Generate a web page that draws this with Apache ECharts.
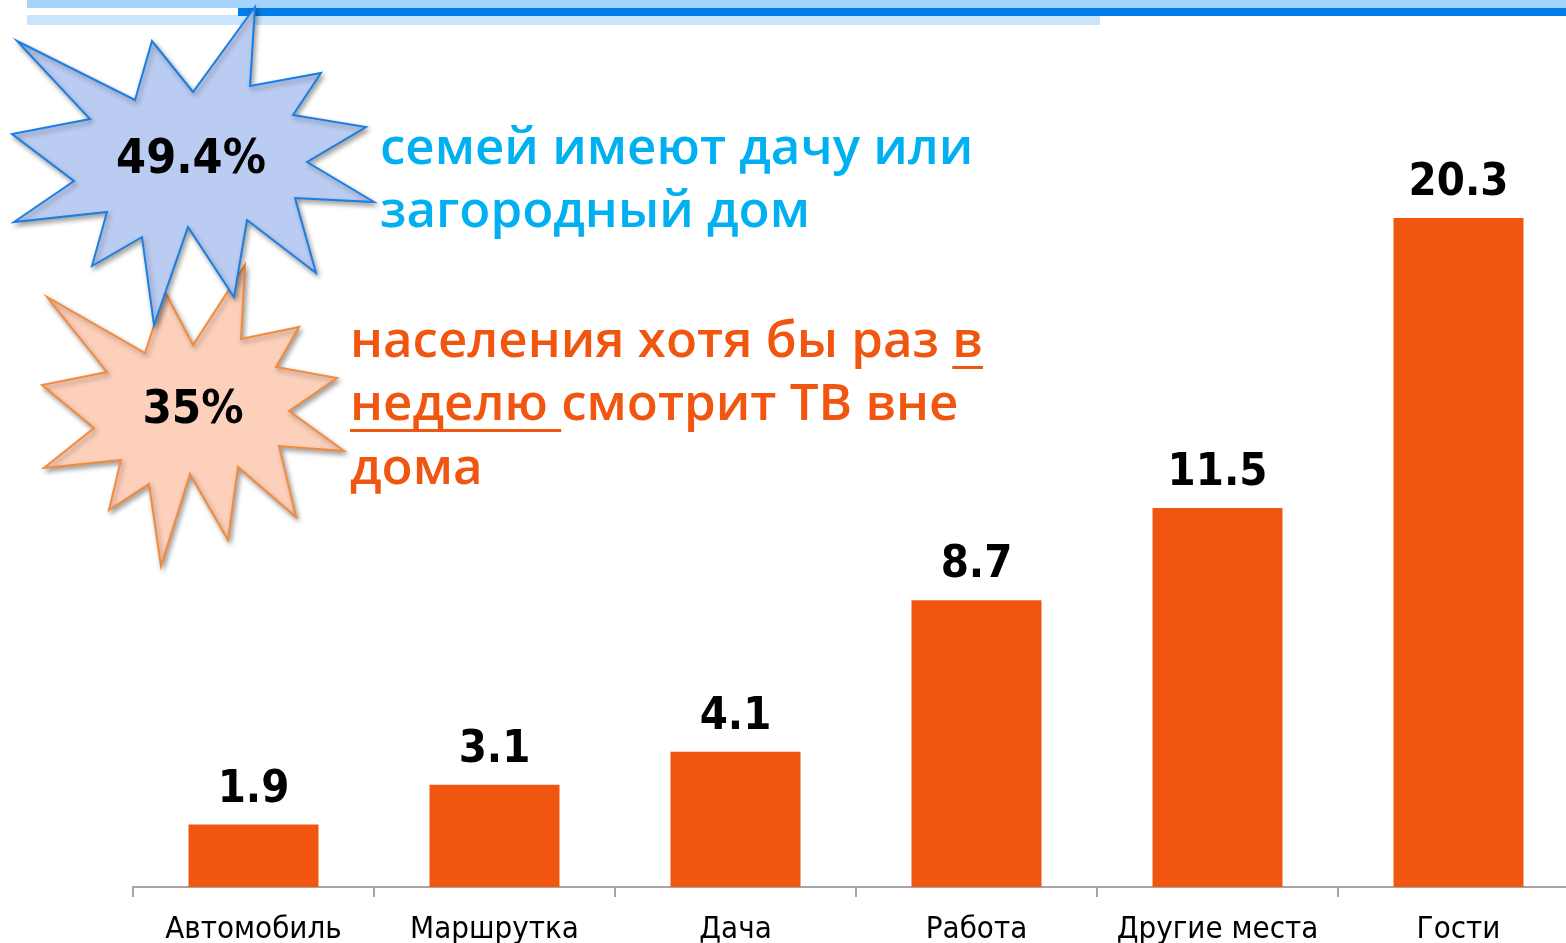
<!DOCTYPE html>
<html><head><meta charset="utf-8">
<script src="https://cdn.jsdelivr.net/npm/echarts@6/dist/echarts.min.js"></script>
<style>html,body{margin:0;padding:0;background:#fff}#c{width:1566px;height:943px}</style>
</head><body><div id="c"></div>
<script>
const categories = ['Автомобиль', 'Маршрутка', 'Дача', 'Работа', 'Другие места', 'Гости'];
const values = [1.9, 3.1, 4.1, 8.7, 11.5, 20.3];
const blueStarText = '49.4%';
const orangeStarText = '35%';
const blueLines = ['семей имеют дачу или', 'загородный дом'];
const orangeLines = ['населения хотя бы раз в', 'неделю смотрит ТВ вне', 'дома'];

const BAR = '#F0560F';
const BLUE_TXT = '#00B0F0';
const annFont = '"Open Sans", "DejaVu Sans", sans-serif';
const annSize = 51;
const annWeight = 600;
const condFont = '"DejaVu Sans Condensed", "DejaVu Sans", sans-serif';

const blueStar = [[255,7],[250,86],[321,73],[293,115],[366,127],[307,162],[374,202],[295,198],[316,273],[247,220],[234,297],[188,227],[154,325],[142,237],[92,266],[107,212],[14,222],[74,181],[12,134],[90,119],[17,41],[135,100],[152,41],[193,92]];
const orangeStar = [[245,265],[241,339],[299,327],[276,367],[337,378],[289,411],[344,451],[279,446],[296,517],[238,467],[228,540],[190,474],[161,566],[149,484],[109,510],[121,460],[44,468],[94,428],[42,385],[107,372],[47,297],[145,353],[165,292],[193,345]];

const mctx = document.createElement('canvas').getContext('2d');
mctx.font = annWeight + ' ' + annSize + 'px ' + annFont;
const w = s => mctx.measureText(s).width;

const ox = 350, bx = 380;
const blueY = [149, 212];
const orangeY = [342, 405, 469];
const ul1x = ox + w(orangeLines[0].slice(0, -1));
const ul1w = w('в');
const ul2w = w('неделю ');

const graphics = [
  {type:'rect', shape:{x:27,y:0,width:1539,height:8}, style:{fill:'#A6D5FC'}, z:1},
  {type:'rect', shape:{x:27,y:15,width:1073,height:10}, style:{fill:'#C8E5FE'}, z:1},
  {type:'rect', shape:{x:238,y:8,width:1328,height:8}, style:{fill:'#007DE8'}, z:2},
  {type:'polygon', shape:{points:orangeStar}, style:{fill:'#FDD0BC', stroke:'#F58A3A', lineWidth:2, shadowBlur:5, shadowOffsetX:2, shadowOffsetY:3, shadowColor:'rgba(0,0,0,0.35)'}, z:10},
  {type:'polygon', shape:{points:blueStar}, style:{fill:'#BBCCF2', stroke:'#1A7FE4', lineWidth:2, shadowBlur:5, shadowOffsetX:2, shadowOffsetY:3, shadowColor:'rgba(0,0,0,0.35)'}, z:11},
  {type:'text', x:191, y:161, style:{text:blueStarText, fill:'#000', font:'bold 48px ' + condFont, textAlign:'center', textVerticalAlign:'middle'}, z:12},
  {type:'text', x:193, y:411, style:{text:orangeStarText, fill:'#000', font:'bold 47px ' + condFont, textAlign:'center', textVerticalAlign:'middle'}, z:12}
];
blueLines.forEach((t, i) => graphics.push({type:'text', x:bx, y:blueY[i], style:{text:t, fill:BLUE_TXT, font:annWeight+' '+annSize+'px '+annFont, textAlign:'left', textVerticalAlign:'middle'}, z:12}));
orangeLines.forEach((t, i) => graphics.push({type:'text', x:ox, y:orangeY[i], style:{text:t, fill:BAR, font:annWeight+' '+annSize+'px '+annFont, textAlign:'left', textVerticalAlign:'middle'}, z:12}));
graphics.push({type:'rect', shape:{x:ul1x, y:366, width:ul1w, height:3}, style:{fill:BAR}, z:12});
graphics.push({type:'rect', shape:{x:ox, y:429, width:ul2w, height:3}, style:{fill:BAR}, z:12});

const chart = echarts.init(document.getElementById('c'), null, {renderer:'canvas'});
chart.setOption({
  animation:false,
  backgroundColor:'#fff',
  grid:{left:133, width:1446, top:63, bottom:56, containLabel:false, outerBoundsMode:'none'},
  xAxis:{type:'category', data:categories,
    axisLine:{lineStyle:{color:'#A6A6A6', width:2}},
    axisTick:{show:true, interval:0, length:10, lineStyle:{color:'#A6A6A6', width:2}},
    axisLabel:{interval:0, margin:27, color:'#000', fontSize:31, fontFamily:condFont}
  },
  yAxis:{type:'value', min:0, max:25, show:false, splitLine:{show:false}},
  series:[{type:'bar', data:values, barWidth:130, itemStyle:{color:BAR},
    label:{show:true, position:'top', distance:12, color:'#000', fontSize:45, fontWeight:'bold', fontFamily:condFont}
  }],
  graphic:graphics
});
</script></body></html>
